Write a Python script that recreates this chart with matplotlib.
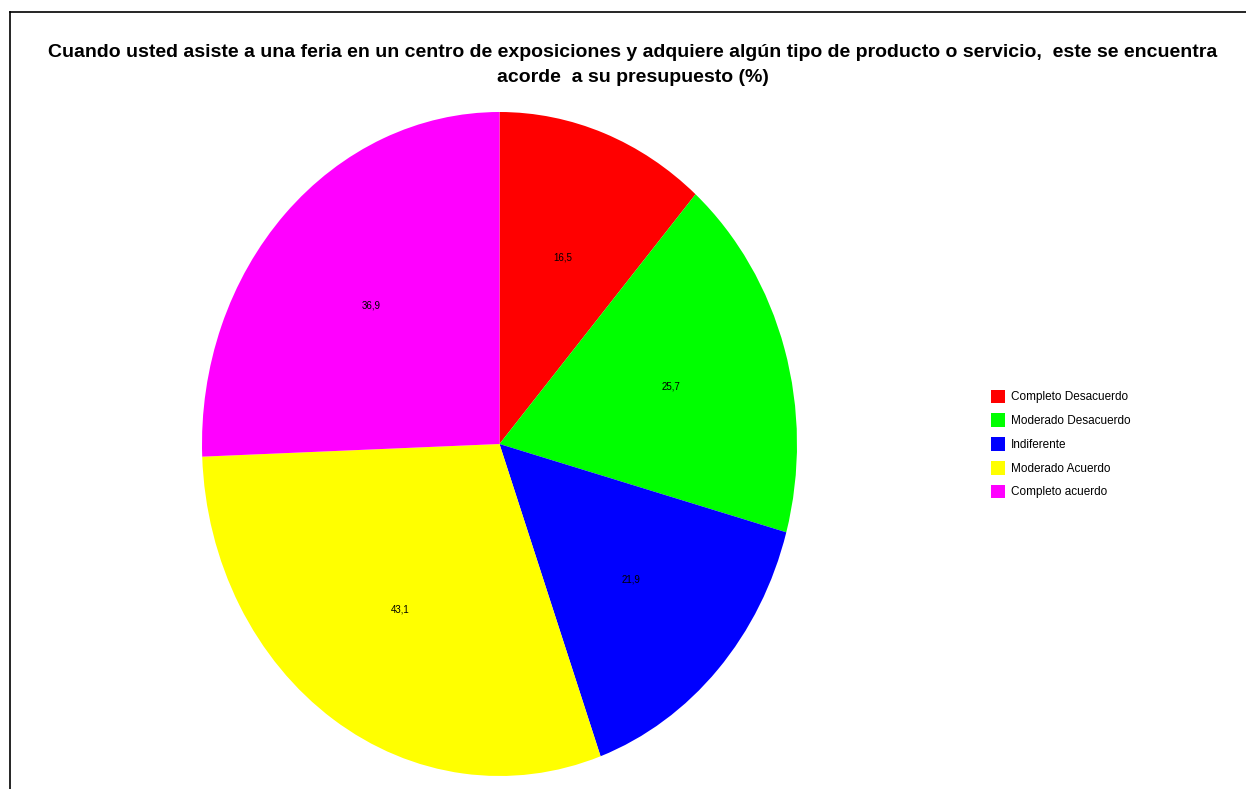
import matplotlib.pyplot as plt
from matplotlib.lines import Line2D

categorias = ["Completo Desacuerdo", "Moderado Desacuerdo", "Indiferente",
              "Moderado Acuerdo", "Completo acuerdo"]
valores = [16.5, 25.7, 21.9, 43.1, 36.9]
colores = ["#ff0000", "#00ff00", "#0000ff", "#ffff00", "#ff00ff"]

titulo = ("Cuando usted asiste a una feria en un centro de exposiciones y adquiere "
          "algún tipo de producto o servicio,  este se encuentra\nacorde  a su presupuesto (%)")

plt.rcParams["font.family"] = ["Liberation Sans", "DejaVu Sans"]

fig = plt.figure(figsize=(12.46, 7.89), dpi=100)

# borde superior e izquierdo
fig.add_artist(Line2D([10 / 1246, 10 / 1246], [0, 1 - 12 / 789], color="black", lw=1.2))
fig.add_artist(Line2D([10 / 1246, 1], [1 - 12 / 789, 1 - 12 / 789], color="black", lw=1.2))

fig.text(633 / 1246, 1 - 65 / 789, titulo, ha="center", va="center",
         fontsize=14, fontweight="bold", linespacing=1.55)

ax = fig.add_axes([202 / 1246, 13 / 789, 595 / 1246, 664 / 789])
wedges, textos = ax.pie(valores, colors=colores, startangle=90, counterclock=False,
                        labels=[f"{v:.1f}".replace(".", ",") for v in valores],
                        labeldistance=0.6, radius=1.0,
                        textprops={"fontsize": 7, "ha": "center", "va": "center"})
ax.set_aspect("auto")
ax.set_xlim(-1, 1)
ax.set_ylim(-1, 1)

fig.legend(wedges, categorias, loc="center left",
           bbox_to_anchor=(980 / 1246, 1 - 444 / 789), frameon=False,
           fontsize=8.5, handlelength=1.2, handleheight=1.4, handletextpad=0.5,
           labelspacing=0.85)

fig.savefig("out.png", dpi=100)
